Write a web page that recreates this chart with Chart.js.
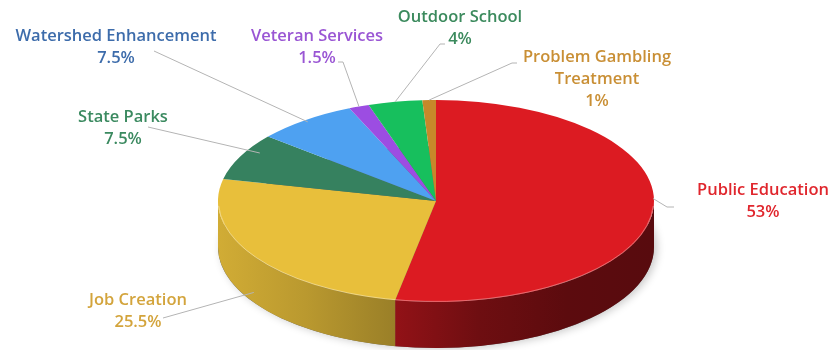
<!DOCTYPE html>
<html>
<head>
<meta charset="utf-8">
<script src="https://cdn.jsdelivr.net/npm/chart.js@4.4.1/dist/chart.umd.min.js"></script>
<style>
  html, body { margin: 0; padding: 0; background: #fff; }
  #wrap { width: 833px; height: 350px; }
</style>
</head>
<body>
<div id="wrap"><canvas id="fundChart" width="833" height="350"></canvas></div>
<script>
// Fund allocation by program (percent of total)
const categories = ['Public Education', 'Job Creation', 'State Parks', 'Watershed Enhancement',
                    'Veteran Services', 'Outdoor School', ['Problem Gambling', 'Treatment']];
const shares = [53, 25.5, 7.5, 7.5, 1.5, 4, 1];

const sliceColors = ['#dc1b22', '#e8bf3b', '#36815f', '#4ea1f1', '#9c4de2', '#17bf5d', '#c7882a'];
const textColors = ['#e0262d', '#d3a43c', '#3b8a60', '#3d6cab', '#9a56d4', '#3b8a5d', '#c98f35'];

// tilted disc: top face ellipse and wall height
const CX = 436, CY = 201, RX = 218, RY = 101, DEPTH = 46;

// wall lighting across the disc, left edge -> right edge
const wallLight = [[0, 0.9], [0.2, 0.8], [0.4, 0.67], [0.6, 0.5], [0.8, 0.42], [1, 0.4]];

// label block centres, leader line start, and where it meets the slice
const labelLayout = [
    { x: 763, y: 190, lead: [[674, 207], [667, 207]], k: 1.0, dy: -12 },
    { x: 138, y: 300, lead: [[163, 318]], k: 1.0, dy: 36 },
    { x: 123, y: 117, lead: [[148, 127]], k: 0.9, dy: -8 },
    { x: 116, y: 36, lead: [[154, 51]], k: 0.98, dy: 0 },
    { x: 317, y: 36, lead: [[338, 62], [343, 62]], k: 1.0, dy: 0 },
    { x: 460, y: 17, lead: [[445, 44], [440, 44]], k: 1.0, dy: 0 },
    { x: 597, y: 57, lead: [[517, 63], [512, 63]], k: 1.0, dy: 0 }
];

function shade(hex, f) {
    const n = parseInt(hex.slice(1), 16);
    const r = Math.round(((n >> 16) & 255) * f);
    const g = Math.round(((n >> 8) & 255) * f);
    const b = Math.round((n & 255) * f);
    return `rgb(${r},${g},${b})`;
}

function rimPoint(t, k, dy) {
    return [CX + k * RX * Math.cos(t), CY + k * RY * Math.sin(t) + dy];
}

// Draws the walls under the pie, then squashes the canvas so the pie lands on the ellipse
const disc3d = {
    id: 'disc3d',
    beforeDatasetsDraw(chart) {
        const ctx = chart.ctx;
        const arcs = chart.getDatasetMeta(0).data;
        if (!arcs.length) return;

        // soft shadow below the disc
        ctx.save();
        ctx.shadowColor = 'rgba(0,0,0,0.22)';
        ctx.shadowBlur = 8;
        ctx.shadowOffsetX = 3;
        ctx.shadowOffsetY = 1;
        ctx.fillStyle = '#666';
        ctx.beginPath();
        ctx.ellipse(CX, CY + DEPTH, RX, RY, 0, 0, Math.PI * 2);
        ctx.fill();
        ctx.restore();

        // front walls (only the part facing the viewer)
        arcs.forEach((arc, i) => {
            const a = Math.max(arc.startAngle, 0);
            const b = Math.min(arc.endAngle, Math.PI);
            if (b <= a) return;
            const grad = ctx.createLinearGradient(CX - RX, 0, CX + RX, 0);
            wallLight.forEach(([p, f]) => grad.addColorStop(p, shade(sliceColors[i], f)));
            ctx.beginPath();
            ctx.ellipse(CX, CY, RX, RY, 0, a, b);
            ctx.ellipse(CX, CY + DEPTH, RX, RY, 0, b, a, true);
            ctx.closePath();
            ctx.fillStyle = grad;
            ctx.fill();
        });

        const arc = arcs[0];
        const R = arc.outerRadius;
        ctx.save();
        ctx.translate(CX, CY);
        ctx.scale(RX / R, RY / R);
        ctx.translate(-arc.x, -arc.y);
    },
    afterDatasetsDraw(chart) {
        const ctx = chart.ctx;
        ctx.restore();

        // light rim where top face meets the wall
        ctx.save();
        ctx.strokeStyle = 'rgba(255,255,255,0.35)';
        ctx.lineWidth = 1;
        ctx.beginPath();
        ctx.ellipse(CX, CY, RX - 0.5, RY - 0.5, 0, 0.05, Math.PI - 0.05);
        ctx.stroke();
        ctx.restore();

        const arcs = chart.getDatasetMeta(0).data;

        // leader lines
        ctx.save();
        ctx.strokeStyle = '#b4b4b4';
        ctx.lineWidth = 1;
        arcs.forEach((arc, i) => {
            const L = labelLayout[i];
            const mid = (arc.startAngle + arc.endAngle) / 2;
            const end = rimPoint(mid, L.k, L.dy);
            ctx.beginPath();
            ctx.moveTo(L.lead[0][0], L.lead[0][1]);
            L.lead.slice(1).forEach(p => ctx.lineTo(p[0], p[1]));
            ctx.lineTo(end[0], end[1]);
            ctx.stroke();
        });
        ctx.restore();

        // labels with percentages
        ctx.save();
        ctx.font = '600 16.5px "Open Sans"';
        ctx.textAlign = 'center';
        ctx.textBaseline = 'middle';
        categories.forEach((name, i) => {
            const L = labelLayout[i];
            const lines = [].concat(name, shares[i] + '%');
            ctx.fillStyle = textColors[i];
            lines.forEach((txt, j) => ctx.fillText(txt, L.x, L.y + j * 22));
        });
        ctx.restore();
    }
};

new Chart(document.getElementById('fundChart'), {
    type: 'pie',
    data: {
        labels: categories,
        datasets: [{
            data: shares,
            backgroundColor: sliceColors,
            borderWidth: 0,
            clip: false
        }]
    },
    options: {
        responsive: false,
        animation: false,
        layout: { padding: 0 },
        plugins: {
            legend: { display: false },
            tooltip: { enabled: false }
        }
    },
    plugins: [disc3d]
});
</script>
</body>
</html>
